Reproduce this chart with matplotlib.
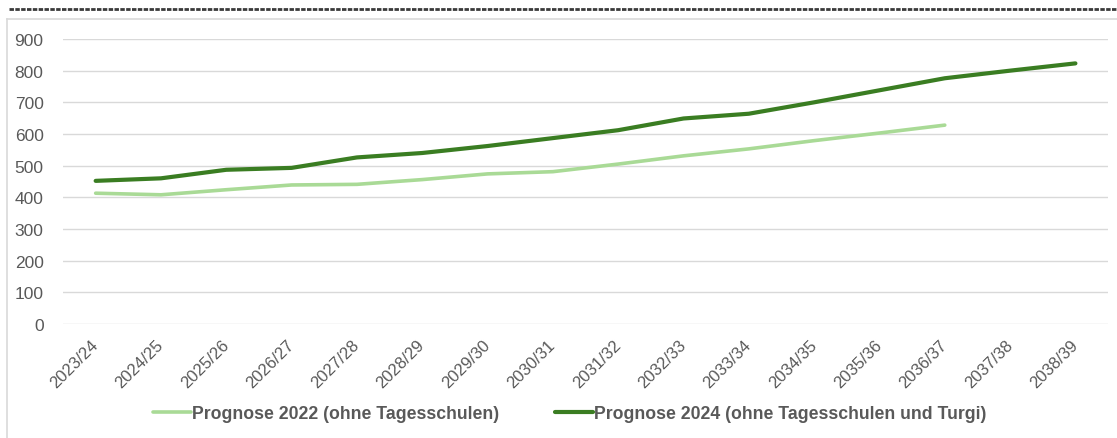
import matplotlib.pyplot as plt
from matplotlib.lines import Line2D

# Schuljahre und Prognosen (Anzahl)
jahre = ['2023/24', '2024/25', '2025/26', '2026/27', '2027/28', '2028/29',
         '2029/30', '2030/31', '2031/32', '2032/33', '2033/34', '2034/35',
         '2035/36', '2036/37', '2037/38', '2038/39']
prognose_2022 = [413, 408, 424, 439, 441, 456, 474, 481, 505, 531, 553, 579,
                 603, 628]
prognose_2024 = [452, 460, 487, 493, 526, 540, 562, 587, 612, 649, 664, 700,
                 738, 776, 800, 823]

label_2022 = 'Prognose 2022 (ohne Tagesschulen)'
label_2024 = 'Prognose 2024 (ohne Tagesschulen und Turgi)'

hell = '#a9da96'
dunkel = '#3a7d22'
grau = '#595959'

plt.rcParams['font.family'] = ['Liberation Sans', 'DejaVu Sans']

fig = plt.figure(figsize=(11.17, 4.39), dpi=100)
ax = fig.add_axes([0.0564, 0.2597, 0.9356, 0.6492])

x = list(range(len(jahre)))
ax.plot(x[:len(prognose_2022)], prognose_2022, color=hell, lw=2.6,
        solid_capstyle='round', label=label_2022)
ax.plot(x, prognose_2024, color=dunkel, lw=3.0,
        solid_capstyle='round', label=label_2024)

ax.set_xlim(-0.5, len(jahre) - 0.5)
ax.set_ylim(0, 900)
ax.set_yticks(range(0, 901, 100))
ax.grid(axis='y', color='#d9d9d9', lw=1)
ax.set_axisbelow(True)
for s in ax.spines.values():
    s.set_visible(False)

ax.set_xticks(x)
ax.set_xticklabels(jahre, rotation=45, ha='right', va='center',
                   rotation_mode='anchor', fontsize=12, color=grau)
ax.tick_params(axis='x', length=0, pad=13)
ax.tick_params(axis='y', length=0, pad=14, labelsize=12.5, labelcolor=grau)

fig.legend(loc='center', bbox_to_anchor=(0.51, 0.055), ncol=2, frameon=False,
           handlelength=2.15, handletextpad=0.05, columnspacing=3.2,
           prop={'weight': 'bold', 'size': 12.7}, labelcolor=grau)

# Rahmen des Diagramms und gestrichelte Linie darüber
fig.add_artist(Line2D([0.0063, 0.0063], [0.0, 0.9544], color='#d9d9d9', lw=1.2))
fig.add_artist(Line2D([0.0063, 1.0], [0.9544, 0.9544], color='#d9d9d9', lw=1.2))
fig.add_artist(Line2D([0.008, 1.0], [0.977, 0.977], color='#3a3a3a', lw=2,
                      linestyle=(0, (1.6, 0.5))))

fig.savefig('out.png', dpi=100)
